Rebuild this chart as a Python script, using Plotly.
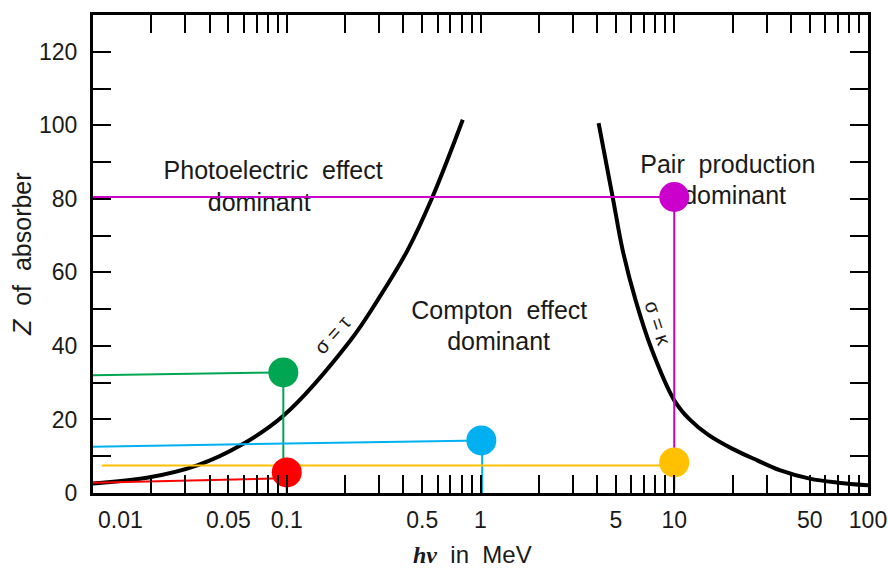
import plotly.graph_objects as go

# ---- data ----
# sigma = tau boundary (photoelectric / Compton)
tau_x = [0.01, 0.0193, 0.0345, 0.0575, 0.096, 0.213, 0.294, 0.42, 0.565, 0.81]
tau_z = [2.6, 4.2, 7.5, 12.9, 21.0, 41.5, 52.4, 66.0, 80.5, 101.5]
# sigma = kappa boundary (Compton / pair production)
kap_x = [4.07, 4.81, 5.42, 6.32, 7.68, 10.0, 12.0, 15.0, 20.0, 27.0, 35.0, 50.0, 70.0, 100.0]
kap_z = [100.6, 80.5, 66.0, 52.4, 38.8, 25.2, 20.0, 15.8, 12.0, 8.8, 6.2, 3.9, 2.8, 2.1]

# highlighted points (energy MeV, Z)
pt_names = ["red", "green", "blue", "yellow", "magenta"]
pt_x = [0.1, 0.096, 1.01, 10.0, 10.0]
pt_z = [5.6, 32.8, 14.3, 8.3, 80.5]
pt_colors = ["#ff0000", "#00a651", "#00b0f0", "#ffc000", "#cc00cc"]

# guide lines (horizontal to the axis / vertical drops)
red_h_x, red_h_z = [0.01, 0.095], [2.8, 4.0]
red_v_x, red_v_z = [0.1, 0.1], [5.6, 0.0]
green_h_x, green_h_z = [0.01, 0.096], [32.0, 32.8]
green_v_x, green_v_z = [0.096, 0.096], [32.8, 8.8]
blue_h_x, blue_h_z = [0.01, 1.01], [12.6, 14.3]
blue_v_x, blue_v_z = [1.02, 1.02], [14.3, 0.0]
yellow_h_x, yellow_h_z = [0.0111, 10.0], [7.5, 7.5]
mag_h_x, mag_h_z = [0.01, 10.0], [80.5, 80.5]
mag_v_x, mag_v_z = [10.0, 10.0], [80.5, 1.0]

# axis ticks
x_tick_vals = [m * 10.0 ** k for k in range(-2, 2) for m in range(1, 10)] + [100.0]
x_labeled = {0.05: "0.05", 0.1: "0.1", 0.5: "0.5", 1.0: "1", 5.0: "5",
             10.0: "10", 50.0: "50", 100.0: "100"}
first_x_label = "0.01"
y_tick_vals = list(range(0, 131, 10))
y_tick_text = [str(v) if v % 20 == 0 else "" for v in y_tick_vals]

# region labels
region_text = ["Photoelectric\u00a0\u00a0effect", "dominant",
               "Compton\u00a0\u00a0effect", "dominant",
               "Pair\u00a0\u00a0production", "dominant"]
region_x = [0.0851, 0.0721, 1.25, 1.24, 18.9, 20.5]
region_z = [87.0, 78.3, 48.9, 40.7, 88.7, 80.3]

FONT = "Liberation Sans, Arial, sans-serif"
TXT = "#1a1a1a"


def key(v):
    return round(v, 6)


labeled_keys = {key(k): t for k, t in x_labeled.items()}
x_tick_text = [labeled_keys.get(key(v), "") for v in x_tick_vals]

fig = go.Figure()

# boundary curves
fig.add_trace(go.Scatter(x=tau_x, y=tau_z, mode="lines",
                         line=dict(color="black", width=4, shape="spline", smoothing=1.0),
                         hoverinfo="skip", showlegend=False))
fig.add_trace(go.Scatter(x=kap_x, y=kap_z, mode="lines",
                         line=dict(color="black", width=4, shape="spline", smoothing=1.0),
                         hoverinfo="skip", showlegend=False))

# region labels (drawn below markers / guide lines)
fig.add_trace(go.Scatter(x=region_x, y=region_z, mode="text", text=region_text,
                         textposition="middle center",
                         textfont=dict(family=FONT, size=25, color=TXT),
                         hoverinfo="skip", showlegend=False))

# guide lines
lines = [
    (red_h_x, red_h_z, pt_colors[0]), (red_v_x, red_v_z, pt_colors[0]),
    (green_h_x, green_h_z, pt_colors[1]), (green_v_x, green_v_z, pt_colors[1]),
    (blue_h_x, blue_h_z, pt_colors[2]), (blue_v_x, blue_v_z, pt_colors[2]),
    (yellow_h_x, yellow_h_z, pt_colors[3]),
    (mag_h_x, mag_h_z, pt_colors[4]), (mag_v_x, mag_v_z, pt_colors[4]),
]
for lx, lz, c in lines:
    fig.add_trace(go.Scatter(x=lx, y=lz, mode="lines", line=dict(color=c, width=2),
                             hoverinfo="skip", showlegend=False))

# markers
for n, px, pz, c in zip(pt_names, pt_x, pt_z, pt_colors):
    fig.add_trace(go.Scatter(x=[px], y=[pz], mode="markers", name=n,
                             marker=dict(color=c, size=30, line=dict(width=0)),
                             showlegend=False))

axis_common = dict(showline=True, linewidth=3, linecolor="black", mirror="allticks",
                   ticks="inside", ticklen=18, tickwidth=2, tickcolor="black",
                   showgrid=False, zeroline=False, automargin=False,
                   tickfont=dict(family=FONT, size=23, color=TXT))

fig.update_xaxes(type="log", range=[-2, 2], tickmode="array",
                 tickvals=x_tick_vals, ticktext=x_tick_text,
                 ticklabelstandoff=4, **axis_common)
fig.update_yaxes(range=[0, 130], tickmode="array", tickvals=y_tick_vals,
                 ticktext=y_tick_text, ticklabelstandoff=8, **axis_common)

annotations = [
    # first x label sits inside the frame's left edge
    dict(x=-2, xref="x", y=0, yref="paper", text=first_x_label, showarrow=False,
         xanchor="left", yanchor="top", xshift=3, yshift=-12,
         font=dict(family=FONT, size=23, color=TXT)),
    # curve labels
    dict(x=-0.765, xref="x", y=42.9, yref="y", text="σ\u00a0=\u00a0τ", showarrow=False,
         textangle=-48, font=dict(family=FONT, size=20, color=TXT)),
    dict(x=0.915, xref="x", y=46.2, yref="y", text="σ\u00a0=\u00a0κ", showarrow=False,
         textangle=72, font=dict(family=FONT, size=20, color=TXT)),
    # axis titles
    dict(x=0, xref="paper", y=0.5, yref="paper", text="<i>Z</i>\u00a0\u00a0of\u00a0\u00a0absorber",
         showarrow=False, textangle=-90, xanchor="center", yanchor="middle",
         xshift=-71, font=dict(family=FONT, size=25, color=TXT)),
    dict(x=0.49, xref="paper", y=0, yref="paper",
         text="<span style=\"font-family:'Liberation Serif', serif\"><b><i>hν</i></b></span>"
              "\u00a0\u00a0in\u00a0\u00a0MeV",
         showarrow=False, xanchor="center", yanchor="middle", yshift=-61,
         font=dict(family=FONT, size=24, color=TXT)),
]

fig.update_layout(width=888, height=568, margin=dict(l=93, r=20, t=15, b=75),
                  paper_bgcolor="white", plot_bgcolor="white",
                  annotations=annotations, showlegend=False)

fig.write_html("out.html")
